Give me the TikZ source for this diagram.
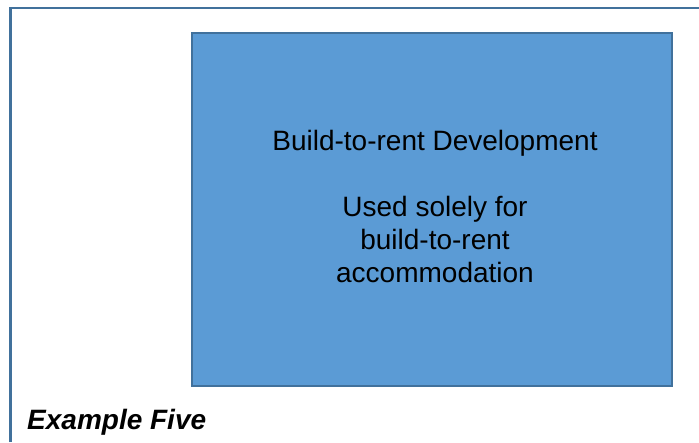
\documentclass[tikz,border=0pt]{standalone}
\usepackage{fontspec}
\setmainfont{Liberation Sans}
\usetikzlibrary{positioning}
\definecolor{cFill}{RGB}{91,155,213}
\definecolor{cEdge}{RGB}{65,113,156}

\begin{document}
\begin{tikzpicture}[x=1pt,y=-1pt,
   frame/.style={draw=cEdge,line width=2.5pt},
   devbox/.style={draw=cEdge,line width=2pt,fill=cFill,minimum width=480pt,minimum height=353pt,inner sep=0pt},
   devtext/.style={inner sep=0pt,align=center,font=\fontsize{28}{33}\selectfont},
   caption/.style={font=\fontsize{28}{33}\selectfont\bfseries\itshape,inner sep=0pt}]
  \useasboundingbox (0,0) rectangle (699,442);
  % outer frame, open at right and bottom
  \coordinate (fb) at (10.5,442);
  \coordinate (ft) at (10.5,8);
  \coordinate (fr) at (699,8);
  \draw[frame] (fb) -- (ft) -- (fr);
  \node[devbox] (dev) at (432,209.5) {};
  \node[devtext] (lbl) at ([xshift=3pt,yshift=3pt]dev.center)
     {Build-to-rent Development\\[33pt]Used solely for\\build-to-rent\\accommodation};
  \node[caption,anchor=base west] (ex) at (27,429) {Example Five};
\end{tikzpicture}
\end{document}
